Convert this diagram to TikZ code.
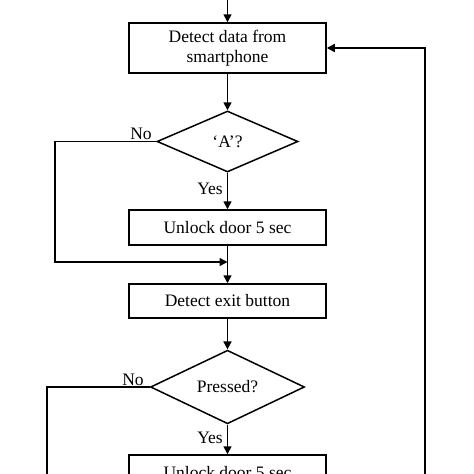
\documentclass[tikz,border=0pt]{standalone}
\usepackage{fontspec}
\setmainfont{Liberation Serif}
\usetikzlibrary{shapes.geometric,arrows.meta}
\begin{document}
\begin{tikzpicture}[x=1pt,y=-1pt,
  every node/.style={font=\fontsize{17.5}{20}\selectfont},
  box/.style={draw,line width=1.5pt,rectangle,minimum width=197pt,inner sep=0pt,align=center},
  dec/.style={draw,line width=1.5pt,diamond,inner sep=0pt},
  conn/.style={line width=1.5pt},
  arr/.style={line width=1.5pt,-{Triangle[length=8pt,width=8pt]}},
  lbl/.style={inner sep=0pt}]
\useasboundingbox (0,0) rectangle (474,474);
\clip (0,0) rectangle (474,474);
\fill[white] (0,0) rectangle (474,474);

\node[box,minimum height=50pt] (b1) at (227.5,48) {Detect data from\\smartphone};
\node[dec,minimum width=141pt,minimum height=61pt] (d1) at (227.5,141.5) {‘A’?};
\node[box,minimum height=35pt] (b2) at (227.5,227.5) {Unlock door 5 sec};
\node[box,minimum height=34pt] (b3) at (227.5,301) {Detect exit button};
\node[dec,minimum width=154pt,minimum height=60pt] (d2) at (227.5,387) {Pressed?};
\node[box,minimum height=35pt] (b4) at (227.5,472.5) {Unlock door 5 sec};

\coordinate (top) at (227.5,-5);
\coordinate (n1a) at (55,141.5);
\coordinate (n1b) at (55,262);
\coordinate (j1) at (227.5,262);
\coordinate (n2a) at (47,387);
\coordinate (n2b) at (47,490);
\coordinate (r1) at (425,490);
\coordinate (r2) at (425,48);

\draw[arr] (top) -- (b1.north);
\draw[arr] (b1.south) -- (d1.north);
\draw[arr] (d1.south) -- node[lbl,left=4pt,pos=0.45]{Yes} (b2.north);
\draw[arr] (d1.west) -- (n1a) -- (n1b) -- (j1);
\draw[arr] (b2.south) -- (b3.north);
\draw[arr] (b3.south) -- (d2.north);
\draw[arr] (d2.south) -- node[lbl,left=4pt,pos=0.45]{Yes} (b4.north);
\draw[conn] (d2.west) -- (n2a) -- (n2b);
\draw[arr] (r1) -- (r2) -- (b1.east);

\node[lbl] (no1) at (141,134) {No};
\node[lbl] (no2) at (133,380) {No};
\end{tikzpicture}
\end{document}
